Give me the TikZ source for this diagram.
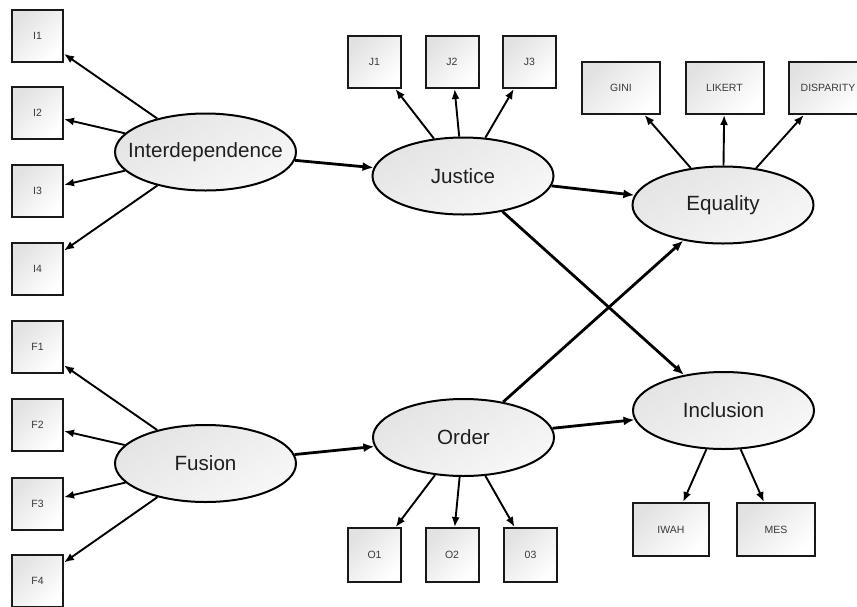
\documentclass[tikz,border=0pt]{standalone}
\usepackage{fontspec}
\setmainfont{Liberation Sans}
\usetikzlibrary{shapes.geometric,arrows.meta}
\definecolor{boxgray}{HTML}{E2E2E2}
\definecolor{ellgray}{HTML}{E4E4E4}
\definecolor{smalltext}{HTML}{3A3A3A}
\newcommand{\zw}[1]{\makebox[0pt]{#1}}
\tikzset{
  ind/.style={draw=black!90, line width=2pt, rectangle, inner sep=0pt,
    minimum width=51pt, minimum height=52pt,
    top color=boxgray, bottom color=white, shading angle=45,
    font=\fontsize{10.5}{12}\selectfont, text=smalltext},
  wideind/.style={ind, minimum width=78pt},
  lat/.style={draw=black, line width=2pt, ellipse, inner sep=0pt,
    minimum width=181pt, minimum height=77pt,
    top color=ellgray, bottom color=white!97!black, shading angle=30,
    font=\fontsize{20.6}{24}\selectfont, text=black!88},
  load/.style={line width=1.9pt, -{Latex[length=10pt,width=8pt]}},
  path/.style={line width=2.8pt, -{Latex[length=11pt,width=9pt]}},
}
\begin{document}
\begin{tikzpicture}[x=1pt,y=-1pt]
\useasboundingbox (0,0) rectangle (857,606);
% latent variables
\node[lat] (int) at (205.5,152) {\zw{Interdependence}};
\node[lat] (fus) at (205.5,463.5) {\zw{Fusion}};
\node[lat] (jus) at (463,176) {\zw{Justice}};
\node[lat] (equ) at (723,205) {\zw{Equality}};
\node[lat] (ord) at (463.5,437.5) {\zw{Order}};
\node[lat] (inc) at (723.5,410.5) {\zw{Inclusion}};
% indicators
\node[ind] (i1) at (37.5,35.5) {I1};
\node[ind] (i2) at (37.5,113) {I2};
\node[ind] (i3) at (37.5,191) {I3};
\node[ind] (i4) at (37.5,269) {I4};
\node[ind] (f1) at (37.5,347) {F1};
\node[ind] (f2) at (37.5,425) {F2};
\node[ind] (f3) at (37.5,503.5) {F3};
\node[ind] (f4) at (37.5,581) {F4};
\node[ind, minimum width=53pt] (j1) at (374.5,62) {J1};
\node[ind, minimum width=53pt] (j2) at (452,62) {J2};
\node[ind, minimum width=53pt] (j3) at (529.5,62) {J3};
\node[wideind] (gini) at (621,88) {GINI};
\node[wideind] (lik) at (724.5,88) {LIKERT};
\node[wideind] (dis) at (828,88) {DISPARITY};
\node[ind, minimum width=53pt, minimum height=54pt] (o1) at (374.5,555) {O1};
\node[ind, minimum width=53pt, minimum height=54pt] (o2) at (452,555) {O2};
\node[ind, minimum width=53pt, minimum height=54pt] (o3) at (530.5,555) {03};
\node[ind, minimum width=76pt, minimum height=53pt] (iwah) at (671,529.5) {IWAH};
\node[wideind, minimum height=53pt] (mes) at (776,529.5) {MES};
% loadings
\foreach \t in {i1,i2,i3,i4} \draw[load] (int) -- (\t);
\foreach \t in {f1,f2,f3,f4} \draw[load] (fus) -- (\t);
\foreach \t in {j1,j2,j3} \draw[load] (jus) -- (\t);
\foreach \t in {gini,lik,dis} \draw[load] (equ) -- (\t);
\foreach \t in {o1,o2,o3} \draw[load] (ord) -- (\t);
\foreach \t in {iwah,mes} \draw[load] (inc) -- (\t);
% structural paths
\draw[path] (int) -- (jus);
\draw[path] (fus) -- (ord);
\draw[path] (jus) -- (equ);
\draw[path] (jus) -- (inc);
\draw[path] (ord) -- (equ);
\draw[path] (ord) -- (inc);
\end{tikzpicture}
\end{document}
